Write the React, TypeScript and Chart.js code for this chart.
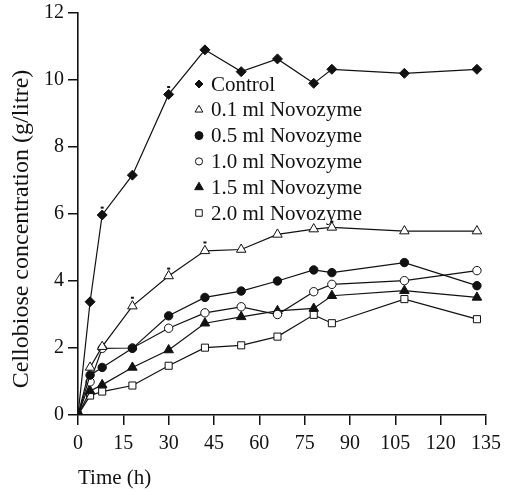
import React, { useEffect, useRef } from 'react';
import { Chart, registerables } from 'chart.js';
import { drawPoint } from 'chart.js/helpers';

Chart.register(...registerables);

// ---- Data ----
const times = [0, 4, 8, 18, 30, 42, 54, 66, 78, 84, 108, 132];
const seriesLabels = [
  'Control',
  '0.1 ml Novozyme',
  '0.5 ml Novozyme',
  '1.0 ml Novozyme',
  '1.5 ml Novozyme',
  '2.0 ml Novozyme',
];
const control = [0, 3.38, 5.97, 7.16, 9.57, 10.9, 10.25, 10.63, 9.9, 10.32, 10.2, 10.32];
const novo01 = [0, 1.42, 2.04, 3.25, 4.15, 4.9, 4.94, 5.39, 5.55, 5.6, 5.49, 5.49];
const novo05 = [0, 1.19, 1.42, 1.99, 2.96, 3.51, 3.7, 4.0, 4.33, 4.25, 4.55, 3.86];
const novo10 = [0, 0.99, 1.99, 2.0, 2.59, 3.05, 3.23, 3.0, 3.68, 3.9, 4.01, 4.31];
const novo15 = [0, 0.72, 0.9, 1.42, 1.94, 2.74, 2.93, 3.11, 3.18, 3.56, 3.71, 3.51];
const novo20 = [0, 0.58, 0.7, 0.88, 1.47, 2.01, 2.08, 2.34, 2.99, 2.74, 3.46, 2.86];
// small error-bar caps visible above some points (g/litre)
const controlErr = [0, 0, 0.22, 0, 0.22, 0, 0, 0, 0, 0, 0, 0];
const novo01Err = [0, 0, 0, 0.25, 0.22, 0.25, 0, 0, 0, 0.17, 0, 0];
const xTicks = [0, 15, 30, 45, 60, 75, 90, 105, 120, 135];
const yTicks = [0, 2, 4, 6, 8, 10, 12];
const xTitle = 'Time (h)';
const yTitle = 'Cellobiose concentration (g/litre)';

const seriesValues = [control, novo01, novo05, novo10, novo15, novo20];
const seriesErrors = [controlErr, novo01Err, null, null, null, null];
const pointStyles = ['rectRot', 'triangle', 'circle', 'circle', 'triangle', 'rect'];
const pointFills = ['#111', '#fff', '#111', '#fff', '#111', '#fff'];
const pointRadii = [5, 5.5, 4.2, 4.2, 5.5, 5];
const legendRadii = [4, 4.5, 4, 3.6, 5, 4.6];

const FAMILY = '"Liberation Serif"';

const extras = {
  id: 'extras',
  afterDatasetsDraw(chart: any) {
    const ctx = chart.ctx;
    const xs = chart.scales.x;
    const ys = chart.scales.y;
    ctx.save();
    ctx.strokeStyle = '#111';
    ctx.lineWidth = 2;
    seriesErrors.forEach((errs, i) => {
      if (!errs) return;
      errs.forEach((e, j) => {
        if (!e) return;
        const px = xs.getPixelForValue(times[j]);
        const py = ys.getPixelForValue(seriesValues[i][j] + e);
        ctx.beginPath();
        ctx.moveTo(px - 1.5, py);
        ctx.lineTo(px + 1.5, py);
        ctx.stroke();
      });
    });
    ctx.restore();
  },
  afterDraw(chart: any) {
    const ctx = chart.ctx;
    const { left, top, bottom } = chart.chartArea;
    // legend inside plot area
    ctx.save();
    ctx.font = `normal 21px ${FAMILY}`;
    ctx.textBaseline = 'middle';
    ctx.textAlign = 'left';
    chart.data.datasets.forEach((ds: any, i: number) => {
      const y = top + 71 + i * 25.8;
      const mx = left + 121;
      ctx.fillStyle = ds.pointBackgroundColor;
      ctx.strokeStyle = '#111';
      ctx.lineWidth = 1;
      drawPoint(ctx, { pointStyle: ds.pointStyle, radius: legendRadii[i], borderWidth: 1, rotation: 0 } as any, mx, y);
      ctx.fillStyle = '#111';
      ctx.fillText(ds.label, left + 133, y + 1);
    });
    ctx.restore();
    // y-axis title
    ctx.save();
    ctx.fillStyle = '#111';
    ctx.font = `normal 24px ${FAMILY}`;
    ctx.textAlign = 'center';
    ctx.textBaseline = 'middle';
    ctx.translate(22, (top + bottom) / 2 + 15);
    ctx.rotate(-Math.PI / 2);
    ctx.fillText(yTitle, 0, 0);
    ctx.restore();
  },
};

export default function App() {
  const ref = useRef<HTMLCanvasElement>(null);

  useEffect(() => {
    if (!ref.current) return;
    Chart.defaults.font.family = FAMILY;
    Chart.defaults.color = '#111';
    const datasets = seriesValues.map((vals, i) => ({
      label: seriesLabels[i],
      data: vals.map((v, j) => ({ x: times[j], y: v })),
      borderColor: '#111',
      borderWidth: 1.2,
      pointStyle: pointStyles[i],
      pointRadius: pointRadii[i],
      pointBackgroundColor: pointFills[i],
      pointBorderColor: '#111',
      pointBorderWidth: 1,
      fill: false,
      tension: 0,
    }));
    const gridOpts = {
      display: true,
      drawOnChartArea: false,
      drawTicks: true,
      tickLength: 10,
      color: '#111',
      lineWidth: 1.5,
    };
    const chart = new Chart(ref.current, {
      type: 'line',
      data: { datasets },
      plugins: [extras],
      options: {
        animation: false,
        responsive: false,
        devicePixelRatio: 1,
        layout: { padding: { left: 0, top: 13, right: 28, bottom: 0 } },
        plugins: {
          legend: { display: false },
          tooltip: { enabled: false },
        },
        scales: {
          x: {
            type: 'linear',
            min: 0,
            max: 135,
            afterBuildTicks: (s: any) => {
              s.ticks = xTicks.map((v) => ({ value: v }));
            },
            afterFit: (s: any) => {
              s.height = 76;
              s.paddingLeft = 0;
              s.paddingRight = 0;
            },
            grid: gridOpts,
            border: { display: true, color: '#111', width: 1.6 },
            ticks: { font: { size: 20, family: FAMILY, weight: 'normal' }, padding: 7, color: '#111', maxRotation: 0 },
            title: {
              display: true,
              text: xTitle,
              align: 'start',
              font: { size: 21, family: FAMILY, weight: 'normal' },
              color: '#111',
              padding: { top: 0, bottom: 0 },
            },
          },
          y: {
            type: 'linear',
            min: 0,
            max: 12,
            afterBuildTicks: (s: any) => {
              s.ticks = yTicks.map((v) => ({ value: v }));
            },
            afterFit: (s: any) => {
              s.width = 78;
              s.paddingTop = 0;
              s.paddingBottom = 0;
            },
            grid: gridOpts,
            border: { display: true, color: '#111', width: 1.6 },
            ticks: { font: { size: 20, family: FAMILY, weight: 'normal' }, padding: 4, color: '#111' },
            title: { display: false },
          },
        },
      } as any,
    });
    let alive = true;
    const redraw = () => {
      if (alive) chart.update();
    };
    const fonts: any = (document as any).fonts;
    if (fonts && fonts.load) {
      Promise.all([fonts.load(`20px ${FAMILY}`), fonts.load(`24px ${FAMILY}`)]).then(redraw, redraw);
    }
    const timers = [30, 150, 400].map((ms) => window.setTimeout(redraw, ms));
    return () => {
      alive = false;
      timers.forEach((t) => window.clearTimeout(t));
      chart.destroy();
    };
  }, []);

  return (
    <div style={{ position: 'fixed', left: 0, top: 0, width: 514, height: 491, background: '#fff' }}>
      <div
        aria-hidden="true"
        style={{ position: 'absolute', left: 0, top: 0, opacity: 0, pointerEvents: 'none', fontFamily: FAMILY, fontSize: 20 }}
      >
        Control 0123456789
      </div>
      <canvas
        ref={ref}
        width={514}
        height={491}
        style={{ position: 'absolute', left: 0, top: 0, width: 514, height: 491, display: 'block' }}
      />
    </div>
  );
}
